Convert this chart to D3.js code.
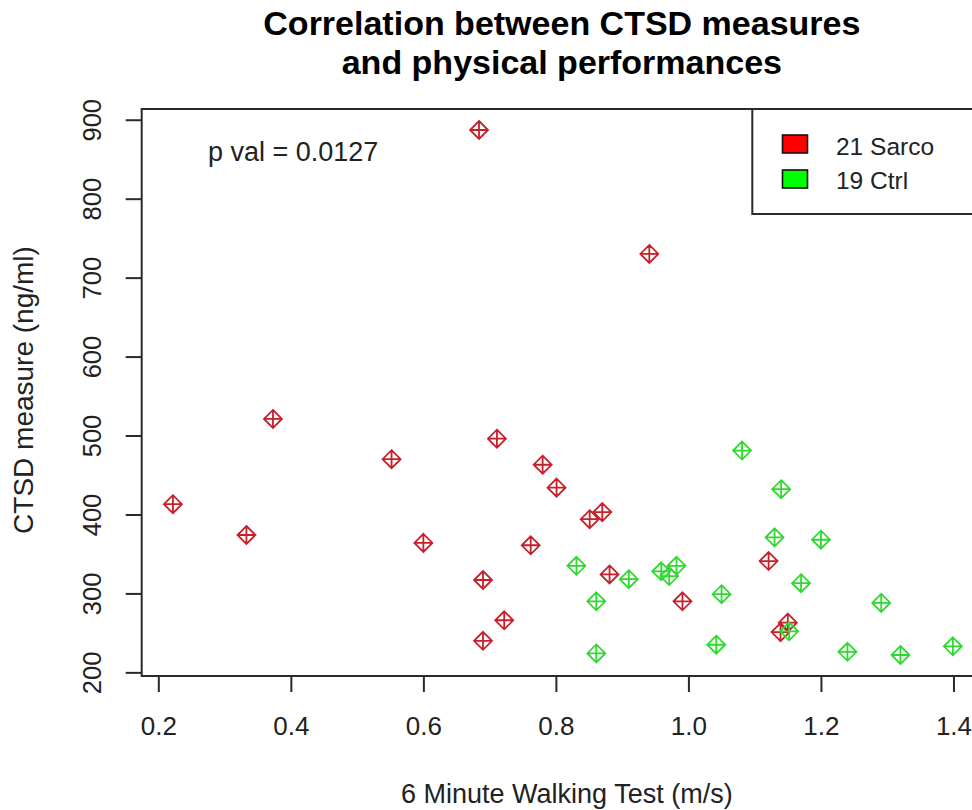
<!DOCTYPE html>
<html>
<head>
<meta charset="utf-8">
<script src="https://cdn.jsdelivr.net/npm/d3@7"></script>
<style>
  body { margin: 0; background: #fff; }
  text { font-family: "Liberation Sans", Arial, sans-serif; }
</style>
</head>
<body>
<script>
// 6 minute walking test (m/s) vs CTSD (ng/ml)
const sarcoX = [0.684, 0.941, 0.373, 0.222, 0.333, 0.552, 0.600, 0.711, 0.780, 0.762, 0.690,
                0.722, 0.690, 0.801, 0.851, 0.870, 0.881, 0.991, 1.121, 1.150, 1.139];
const sarcoY = [887, 730, 521, 413, 374, 470, 364, 496, 463, 361, 317,
                266, 240, 434, 394, 403, 324, 290, 341, 263, 251];
const ctrlX = [1.081, 1.140, 1.130, 1.200, 1.170, 1.291, 1.399, 1.320, 1.240, 1.152,
               1.042, 1.050, 0.982, 0.959, 0.971, 0.910, 0.831, 0.861, 0.861];
const ctrlY = [481, 432, 371, 368, 313, 288, 233, 222, 226, 252,
               235, 299, 335, 328, 322, 318, 335, 290, 224];

const xTicks = [0.2, 0.4, 0.6, 0.8, 1.0, 1.2, 1.4];
const xTickLabels = ["0.2", "0.4", "0.6", "0.8", "1.0", "1.2", "1.4"];
const yTicks = [200, 300, 400, 500, 600, 700, 800, 900];

const legendLabels = ["21 Sarco", "19 Ctrl"];
const titleLines = ["Correlation between CTSD measures", "and physical performances"];

var width = 972, height = 810;
var margin = {top: 109, left: 141.7};
var plotW = 842.3, plotH = 567;

var colorSarco = "#c8202a",
    colorCtrl = "#2fd92f",
    axisColor = "#2a2a2a";

var sarco = sarcoX.map((x, i) => ({x: x, y: sarcoY[i], g: 0}));
var ctrl = ctrlX.map((x, i) => ({x: x, y: ctrlY[i], g: 1}));
var all = sarco.concat(ctrl);

// R style 4% padding of the data range
function pad(ext) {
  var d = (ext[1] - ext[0]) * 0.04;
  return [ext[0] - d, ext[1] + d];
}

var x = d3.scaleLinear()
  .domain(pad(d3.extent(all, d => d.x)))
  .range([0, plotW]);

var y = d3.scaleLinear()
  .domain(pad(d3.extent(all, d => d.y)))
  .range([plotH, 0]);

var svg = d3.select("body").append("svg")
  .attr("width", width)
  .attr("height", height);

var g = svg.append("g")
  .attr("transform", "translate(" + margin.left + "," + margin.top + ")");

// title
svg.append("g").selectAll("text")
  .data(titleLines)
  .join("text")
    .attr("x", margin.left + plotW / 2 - 1)
    .attr("y", (d, i) => 35 + i * 39)
    .attr("text-anchor", "middle")
    .attr("font-weight", "bold")
    .attr("font-size", 34)
    .attr("fill", "#000")
    .text(d => d);

// x axis
var xAxis = g.append("g")
  .attr("transform", "translate(0," + plotH + ")")
  .call(d3.axisBottom(x)
    .tickValues(xTicks)
    .tickFormat((d, i) => xTickLabels[i])
    .tickSize(16)
    .tickPadding(25));
xAxis.select(".domain").remove();
xAxis.selectAll("line").attr("stroke", axisColor).attr("stroke-width", 2);
xAxis.selectAll("text")
  .attr("font-size", 26)
  .attr("font-family", "Liberation Sans, Arial, sans-serif")
  .attr("fill", "#222");

// y axis, labels turned like R's las=0
var yAxis = g.append("g")
  .call(d3.axisLeft(y)
    .tickValues(yTicks)
    .tickSize(16));
yAxis.select(".domain").remove();
yAxis.selectAll("line").attr("stroke", axisColor).attr("stroke-width", 2);
yAxis.selectAll("text")
  .attr("x", 0)
  .attr("dy", "0.36em")
  .attr("text-anchor", "middle")
  .attr("transform", "translate(-49.5,0) rotate(-90)")
  .attr("font-size", 25.5)
  .attr("font-family", "Liberation Sans, Arial, sans-serif")
  .attr("fill", "#222");

// axis lines between first and last tick
g.append("line")
  .attr("x1", x(xTicks[0])).attr("x2", x(xTicks[xTicks.length - 1]))
  .attr("y1", plotH).attr("y2", plotH)
  .attr("stroke", axisColor).attr("stroke-width", 2);

// plot box
g.append("rect")
  .attr("width", plotW)
  .attr("height", plotH)
  .attr("fill", "none")
  .attr("stroke", axisColor)
  .attr("stroke-width", 2);

// axis titles
svg.append("text")
  .attr("x", margin.left + plotW / 2 + 4)
  .attr("y", 803)
  .attr("text-anchor", "middle")
  .attr("font-size", 27)
  .attr("fill", "#222")
  .text("6 Minute Walking Test (m/s)");

svg.append("text")
  .attr("transform", "translate(33," + 390 + ") rotate(-90)")
  .attr("text-anchor", "middle")
  .attr("font-size", 28)
  .attr("fill", "#222")
  .text("CTSD measure (ng/ml)");

// pch = 9 : diamond with a plus
var r = 9;
var marker = `M0,${-r}L${r},0L0,${r}L${-r},0Z M${-r},0H${r} M0,${-r}V${r}`;

g.append("g")
    .attr("fill", "none")
    .attr("stroke-width", 1.8)
  .selectAll("path")
  .data(all)
  .join("path")
    .attr("transform", d => `translate(${x(d.x)},${y(d.y)})`)
    .attr("d", marker)
    .attr("stroke", d => d.g == 0 ? colorSarco : colorCtrl);

// p value
svg.append("text")
  .attr("x", 208)
  .attr("y", 161)
  .attr("font-size", 27)
  .attr("fill", "#222")
  .text("p val = 0.0127");

// legend (topright, no inset)
var lg = g.append("g");
lg.append("rect")
  .attr("x", 752.3 - margin.left)
  .attr("y", 0)
  .attr("width", plotW - (752.3 - margin.left))
  .attr("height", 105)
  .attr("fill", "#fff")
  .attr("stroke", axisColor)
  .attr("stroke-width", 2);

lg.selectAll(".key")
  .data(legendLabels)
  .join("rect")
    .attr("class", "key")
    .attr("x", 782.5 - margin.left)
    .attr("y", (d, i) => 26 + i * 35)
    .attr("width", 25)
    .attr("height", 18)
    .attr("fill", (d, i) => i == 0 ? "#ff0000" : "#00ff00")
    .attr("stroke", "#111")
    .attr("stroke-width", 1.6);

lg.selectAll(".lab")
  .data(legendLabels)
  .join("text")
    .attr("class", "lab")
    .attr("x", 836 - margin.left)
    .attr("y", (d, i) => 46 + i * 34)
    .attr("font-size", 24.5)
    .attr("fill", "#222")
    .text(d => d);
</script>
</body>
</html>
